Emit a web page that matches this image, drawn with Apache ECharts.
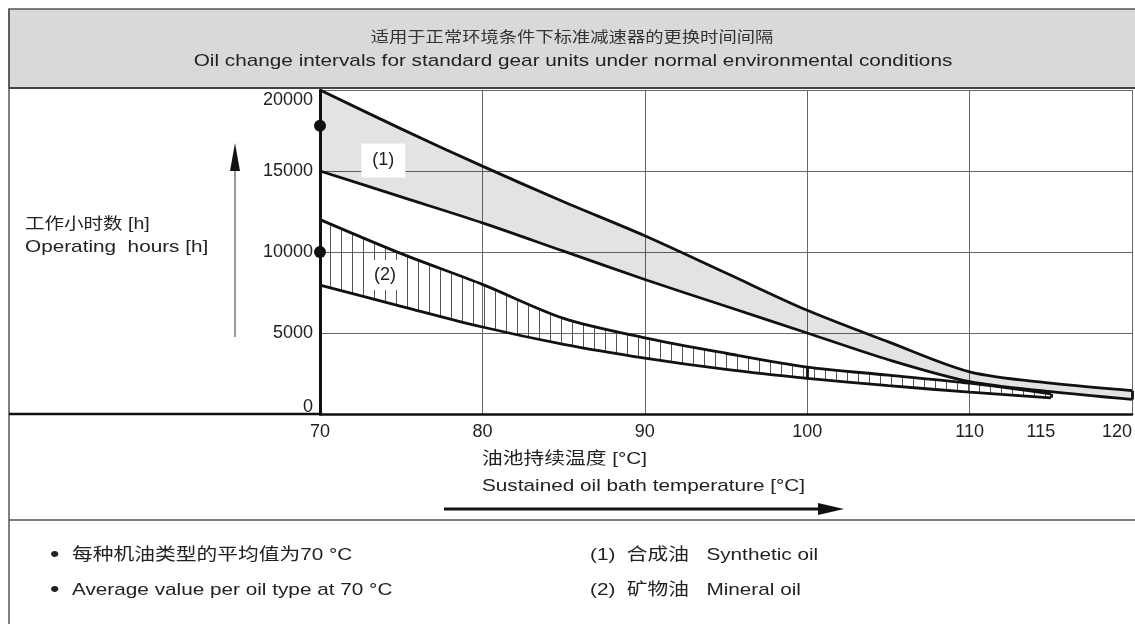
<!DOCTYPE html>
<html>
<head>
<meta charset="utf-8">
<script src="https://cdn.jsdelivr.net/npm/echarts@6/dist/echarts.min.js"></script>
<style>
html, body { margin: 0; padding: 0; background: #fff; }
#chart { width: 1135px; height: 624px; }
</style>
</head>
<body>
<div id="chart"></div>
<script>
// values
var synthTemps = [70, 75, 80, 85, 90, 95, 100, 105, 110, 115, 120];
var synthHigh = [20000, 17600, 15300, 13100, 11000, 8700, 6400, 4450, 2600, 1900, 1440];
var synthLow = [15000, 13400, 11800, 10050, 8300, 6650, 5000, 3350, 2000, 1380, 900];
var mineralTemps = [70, 75, 80, 85, 90, 95, 100, 105, 110, 115];
var mineralHigh = [12000, 9900, 8000, 5900, 4700, 3750, 2900, 2400, 1900, 1250];
var mineralLow = [7950, 6650, 5370, 4300, 3450, 2750, 2200, 1750, 1350, 1000];
var averages = [[70, 17800], [70, 10000]];
var xTicks = [70, 80, 90, 100, 110, 115, 120];

var FONT = '"Liberation Sans", "Noto Sans CJK SC", sans-serif';
var SX = 1.22;

var myChart = echarts.init(document.getElementById('chart'));

// vertical hatching for the mineral oil band
var hatch = document.createElement('canvas');
hatch.width = 11;
hatch.height = 4;
var hctx = hatch.getContext('2d');
hctx.fillStyle = '#555';
hctx.fillRect(0, 0, 1, 4);

function pairs(xs, ys) {
	var out = [];
	for (var i = 0; i < xs.length; i++) out.push([xs[i], ys[i]]);
	return out;
}
function cap(xs, hi, lo, k) {
	return { coords: [[xs[k], lo[k]], [xs[k], hi[k]]] };
}
// filled band between the high and low curve
function band(xs, hi, lo, fill) {
	return {
		type: 'custom', silent: true, z: 1,
		data: [[xs[0], lo[0]]],
		renderItem: function (params, api) {
			var pts = [];
			for (var i = 0; i < xs.length; i++) pts.push(api.coord([xs[i], hi[i]]));
			for (var j = xs.length - 1; j >= 0; j--) pts.push(api.coord([xs[j], lo[j]]));
			return { type: 'polygon', shape: { points: pts }, style: { fill: fill } };
		}
	};
}
function curve(xs, ys) {
	return {
		type: 'line', silent: true, z: 3, data: pairs(xs, ys), smooth: 0.3,
		symbol: 'none', lineStyle: { color: '#111', width: 2.8 }
	};
}

function txt(x, y, s, size, align, fill) {
	return {
		type: 'text', x: x, y: y, scaleX: SX, silent: true, z: 10,
		style: {
			text: s, font: size + 'px ' + FONT, fill: fill || '#222',
			textAlign: align || 'left', textVerticalAlign: 'middle'
		}
	};
}
function hline(x1, x2, y, w, c) {
	return { type: 'line', silent: true, z: 5, shape: { x1: x1, y1: y, x2: x2, y2: y }, style: { stroke: c, lineWidth: w } };
}

option = {
	animation: false,
	grid: { left: 320, right: 0, top: 90, bottom: 210 },
	xAxis: {
		type: 'value', min: 70, max: 120, interval: 10,
		axisLine: { show: true, lineStyle: { color: '#111', width: 2.5 } },
		axisTick: { show: false },
		splitLine: { show: true, lineStyle: { color: '#666', width: 1 } },
		axisLabel: {
			customValues: xTicks, margin: 9, fontSize: 18, color: '#222',
			fontFamily: 'Liberation Sans', alignMaxLabel: 'right',
			formatter: function (v) { return v === 115 ? '{l|115}' : String(v); },
			rich: { l: { fontSize: 18, padding: [0, 20, 0, 0] } }
		}
	},
	yAxis: {
		type: 'value', min: 0, max: 20000, interval: 5000,
		axisLine: { show: true, lineStyle: { color: '#111', width: 3 } },
		axisTick: { show: false },
		splitLine: { show: true, lineStyle: { color: '#666', width: 1 } },
		axisLabel: {
			margin: 7, fontSize: 18, color: '#222', fontFamily: 'Liberation Sans',
			formatter: function (v) {
				if (v === 20000) return '{t|20000}';
				if (v === 0) return '{b|0}';
				return String(v);
			},
			rich: {
				t: { fontSize: 18, padding: [20, 0, 0, 0] },
				b: { fontSize: 18, padding: [0, 0, 14, 0] }
			}
		}
	},
	series: [
		band(synthTemps, synthHigh, synthLow, 'rgba(0,0,0,0.11)'),
		band(mineralTemps, mineralHigh, mineralLow, { image: hatch, repeat: 'repeat' }),
		curve(synthTemps, synthHigh),
		curve(synthTemps, synthLow),
		curve(mineralTemps, mineralHigh),
		curve(mineralTemps, mineralLow),
		{
			type: 'lines', coordinateSystem: 'cartesian2d', silent: true, z: 3,
			lineStyle: { color: '#111', width: 2.8, opacity: 1 },
			data: [
				cap(synthTemps, synthHigh, synthLow, synthTemps.length - 1),
				cap(mineralTemps, mineralHigh, mineralLow, mineralTemps.length - 1),
				cap(mineralTemps, mineralHigh, mineralLow, 6)
			]
		},
		{
			type: 'scatter', silent: true, clip: false, z: 6,
			symbolSize: 12, itemStyle: { color: '#111', opacity: 1 },
			data: averages
		},
		{
			type: 'scatter', silent: true, z: 4, symbol: 'rect',
			itemStyle: { color: '#fff', opacity: 1 },
			symbolSize: function (v, p) { return p.dataIndex === 0 ? [44, 34] : [40, 30]; },
			label: {
				show: true, position: 'inside', fontSize: 18, color: '#222', fontFamily: 'Liberation Sans',
				formatter: function (p) { return p.dataIndex === 0 ? '(1)' : '(2)'; }
			},
			data: [[73.9, 15650], [74.0, 8580]]
		}
	],
	graphic: [
		{ type: 'rect', silent: true, z: 0, shape: { x: 9, y: 9, width: 1130, height: 79 }, style: { fill: '#d9d9d9', stroke: '#555', lineWidth: 1.5 } },
		hline(9, 1135, 88, 2, '#444'),
		hline(9, 320, 414, 2.5, '#111'),
		hline(9, 1135, 520, 1.5, '#555'),
		{ type: 'line', silent: true, shape: { x1: 9, y1: 9, x2: 9, y2: 624 }, style: { stroke: '#555', lineWidth: 1.5 } },
		txt(572, 38, '适用于正常环境条件下标准减速器的更换时间间隔', 15, 'center', '#333'),
		txt(573, 61, 'Oil change intervals for standard gear units under normal environmental conditions', 17, 'center'),
		txt(25, 225, '工作小时数 [h]', 16),
		txt(25, 247, 'Operating  hours [h]', 17),
		{ type: 'line', silent: true, shape: { x1: 235, y1: 337, x2: 235, y2: 165 }, style: { stroke: '#333', lineWidth: 1 } },
		{ type: 'polygon', silent: true, shape: { points: [[235, 143], [230, 171], [240, 171]] }, style: { fill: '#111' } },
		txt(482, 459, '油池持续温度 [°C]', 17),
		txt(482, 486, 'Sustained oil bath temperature [°C]', 17),
		hline(444, 825, 509, 3, '#111'),
		{ type: 'polygon', silent: true, shape: { points: [[844, 509], [818, 503], [818, 515]] }, style: { fill: '#111' } },
		txt(50, 555, '•', 22),
		txt(72, 555, '每种机油类型的平均值为70 °C', 17),
		txt(50, 590, '•', 22),
		txt(72, 590, 'Average value per oil type at 70 °C', 17),
		txt(590, 555, '(1)  合成油   Synthetic oil', 17),
		txt(590, 590, '(2)  矿物油   Mineral oil', 17)
	]
};
myChart.setOption(option);
</script>
</body>
</html>
